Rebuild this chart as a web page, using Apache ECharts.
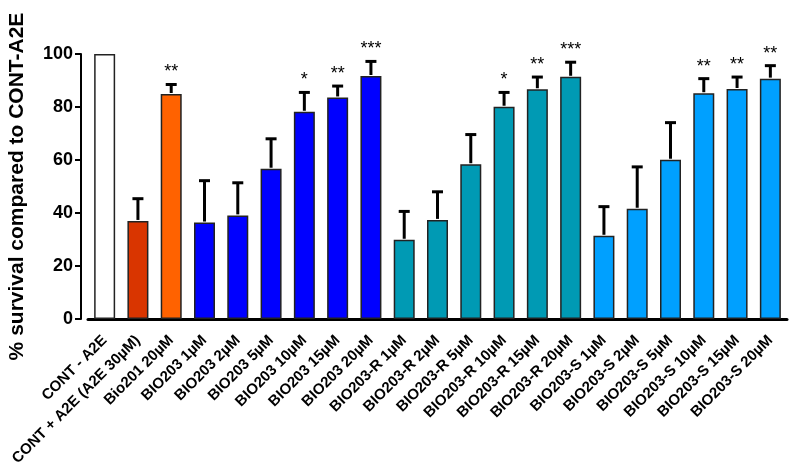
<!DOCTYPE html>
<html><head><meta charset="utf-8">
<script src="https://cdn.jsdelivr.net/npm/echarts@6/dist/echarts.min.js"></script>
<style>html,body{margin:0;padding:0;background:#fff}#c{width:799px;height:464px}</style>
</head><body><div id="c"></div>
<script>
const categories = ["CONT - A2E","CONT + A2E (A2E 30µM)","Bio201 20µM","BIO203 1µM","BIO203 2µM","BIO203 5µM","BIO203 10µM","BIO203 15µM","BIO203 20µM","BIO203-R 1µM","BIO203-R 2µM","BIO203-R 5µM","BIO203-R 10µM","BIO203-R 15µM","BIO203-R 20µM","BIO203-S 1µM","BIO203-S 2µM","BIO203-S 5µM","BIO203-S 10µM","BIO203-S 15µM","BIO203-S 20µM"];
const values = [100,37.0,84.9,36.4,39.1,56.7,78.2,83.6,91.7,29.9,37.4,58.4,80.1,86.7,91.4,31.4,41.6,60.1,85.2,86.8,90.7];
const errors = [0,8.4,3.6,15.8,12.3,11.3,7.3,4.3,5.5,10.7,10.6,11.2,5.4,4.6,5.5,11.0,15.8,14.0,5.5,4.5,4.9];
const stars = ["","","**","","","","*","**","***","","","","*","**","***","","","","**","**","**"];
const groups = ["ctrl","a2e","bio201","bio203","bio203","bio203","bio203","bio203","bio203","r","r","r","r","r","r","s","s","s","s","s","s"];
const groupColors = {ctrl:"#FFFFFF",a2e:"#D93500",bio201:"#FF6200",bio203:"#0000FF",r:"#009AB4",s:"#00A0FF"};
const FONT = "'Liberation Sans', Arial, sans-serif";

const chart = echarts.init(document.getElementById('c'), null, {renderer:'canvas'});
chart.setOption({
  animation:false,
  grid:{left:88,right:12,top:54,bottom:145,outerBoundsMode:'none',containLabel:false},
  xAxis:{type:'category',data:categories,
    axisLine:{lineStyle:{color:'#000',width:3}},
    axisTick:{show:false},
    axisLabel:{rotate:45,interval:0,margin:19,color:'#000',fontFamily:FONT,fontWeight:'bold',fontSize:15}},
  yAxis:{type:'value',min:0,max:100,interval:20,offset:7,
    name:'% survival compared to CONT-A2E',nameLocation:'middle',nameRotate:90,nameGap:53,
    nameTextStyle:{color:'#000',fontFamily:FONT,fontWeight:'bold',fontSize:21},
    axisLine:{show:true,lineStyle:{color:'#000',width:2}},
    axisTick:{show:true,length:6,lineStyle:{color:'#000',width:2}},
    splitLine:{show:false},
    axisLabel:{color:'#000',fontFamily:FONT,fontWeight:'bold',fontSize:18,margin:8}},
  series:[
    {type:'bar',barWidth:21,
     data:values.map((v,i)=>({value:v,itemStyle:{color:groupColors[groups[i]],borderColor:'#222',borderWidth:1.5}}))},
    {type:'custom',clip:false,z:3,
     data:values.map((v,i)=>[i,v,errors[i]]),
     renderItem:function(params,api){
       const i=api.value(0),v=api.value(1),e=api.value(2);
       const children=[];
       const p0=api.coord([i,v]); const p1=api.coord([i,v+e]);
       if(e>0){
         children.push({type:'line',shape:{x1:p0[0],y1:p0[1]-1,x2:p1[0],y2:p1[1]},style:{stroke:'#000',lineWidth:3}});
         children.push({type:'line',shape:{x1:p1[0]-5.5,y1:p1[1],x2:p1[0]+5.5,y2:p1[1]},style:{stroke:'#000',lineWidth:3}});
       }
       const s=stars[i];
       if(s){
         children.push({type:'text',x:p1[0],y:p1[1]-3,style:{text:s,fill:'#000',font:'18px '+FONT,align:'center',verticalAlign:'bottom'}});
       }
       return {type:'group',children:children};
     }}
  ]
});
</script></body></html>
